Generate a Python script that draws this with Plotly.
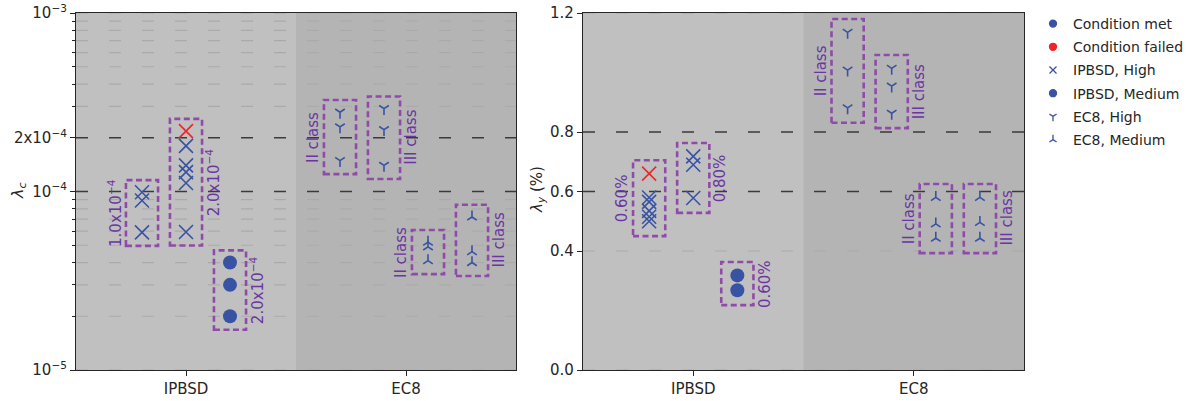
import math
import plotly.graph_objects as go

# ---------------------------------------------------------------- data
categories = ["IPBSD", "EC8"]

# Collapse safety, lambda_c (1/yr)
lam_c_ipbsd_high_a = [0.99e-4, 0.89e-4, 0.59e-4]
lam_c_ipbsd_high_a_failed = [False, False, False]
lam_c_ipbsd_high_b = [2.18e-4, 1.80e-4, 1.40e-4, 1.285e-4, 1.116e-4, 0.593e-4]
lam_c_ipbsd_high_b_failed = [True, False, False, False, False, False]
lam_c_ipbsd_medium = [4.0e-5, 3.0e-5, 2.0e-5]
lam_c_ipbsd_medium_failed = [False, False, False]
lam_c_ec8_high_ii = [2.78e-4, 2.30e-4, 1.49e-4]
lam_c_ec8_high_iii = [2.91e-4, 2.22e-4, 1.40e-4]
lam_c_ec8_medium_ii = [0.52e-4, 0.49e-4, 0.41e-4]
lam_c_ec8_medium_iii = [0.72e-4, 0.46e-4, 0.40e-4]

# Expected annual loss, lambda_y (%)
lam_y_ipbsd_high_a = [0.66, 0.58, 0.565, 0.535, 0.515, 0.50]
lam_y_ipbsd_high_a_failed = [True, False, False, False, False, False]
lam_y_ipbsd_high_b = [0.718, 0.69, 0.578]
lam_y_ipbsd_high_b_failed = [False, False, False]
lam_y_ipbsd_medium = [0.318, 0.268]
lam_y_ipbsd_medium_failed = [False, False]
lam_y_ec8_high_ii = [1.135, 1.008, 0.881]
lam_y_ec8_high_iii = [1.014, 0.954, 0.863]
lam_y_ec8_medium_ii = [0.580, 0.491, 0.443]
lam_y_ec8_medium_iii = [0.580, 0.496, 0.443]

# Limit lines
lam_c_limits = [1.0e-4, 2.0e-4]
lam_y_limits = [0.6, 0.8]

# Axis ticks
lam_c_ticks = [1e-5, 1e-4, 2e-4, 1e-3]
lam_c_ticktext = ["10<sup>−5</sup>", "10<sup>−4</sup>", "2x10<sup>−4</sup>", "10<sup>−3</sup>"]
lam_c_minor = [k * 1e-5 for k in range(2, 10)] + [k * 1e-4 for k in range(3, 10)]
lam_y_ticks = [0.0, 0.4, 0.6, 0.8, 1.2]
lam_y_ticktext = ["0.0", "0.4", "0.6", "0.8", "1.2"]

# Group labels
lam_c_ipbsd_labels = ["1.0x10<sup>−4</sup>", "2.0x10<sup>−4</sup>", "2.0x10<sup>−4</sup>"]
lam_y_ipbsd_labels = ["0.60%", "0.80%", "0.60%"]
ec8_class_labels = ["II class", "III class", "II class", "III class"]

legend_labels = ["Condition met", "Condition failed", "IPBSD, High",
                 "IPBSD, Medium", "EC8, High", "EC8, Medium"]

# ---------------------------------------------------------------- styles
W, H = 1203, 401
BLUE = "#3953a4"
RED = "#ee2529"
BOX = "#8e4ba8"
LABEL = "#6a36a0"
BG_A = "#c0c0c0"
BG_B = "#b4b4b4"
GRID = "#aaaaaa"
DARK = "#3a3a3a"
TXT = "#262626"
FONT = "DejaVu Sans"
DASH = "12px,21px"

SYM = {
    "x": dict(symbol="x-thin", size=14, lw=1.6),
    "o": dict(symbol="circle", size=14, lw=0),
    "yd": dict(symbol="y-down", size=8, lw=1.6),
    "yu": dict(symbol="y-up", size=8, lw=1.6),
}


def no_fail(vals):
    return [False] * len(vals)


# group table: (values, failed flags, x position, symbol, label, label side)
left_groups = [
    (lam_c_ipbsd_high_a, lam_c_ipbsd_high_a_failed, -0.2, "x", lam_c_ipbsd_labels[0], "l"),
    (lam_c_ipbsd_high_b, lam_c_ipbsd_high_b_failed, 0.0, "x", lam_c_ipbsd_labels[1], "r"),
    (lam_c_ipbsd_medium, lam_c_ipbsd_medium_failed, 0.2, "o", lam_c_ipbsd_labels[2], "r"),
    (lam_c_ec8_high_ii, no_fail(lam_c_ec8_high_ii), 0.7, "yd", ec8_class_labels[0], "l"),
    (lam_c_ec8_high_iii, no_fail(lam_c_ec8_high_iii), 0.9, "yd", ec8_class_labels[1], "r"),
    (lam_c_ec8_medium_ii, no_fail(lam_c_ec8_medium_ii), 1.1, "yu", ec8_class_labels[2], "l"),
    (lam_c_ec8_medium_iii, no_fail(lam_c_ec8_medium_iii), 1.3, "yu", ec8_class_labels[3], "r"),
]
right_groups = [
    (lam_y_ipbsd_high_a, lam_y_ipbsd_high_a_failed, -0.2, "x", lam_y_ipbsd_labels[0], "l"),
    (lam_y_ipbsd_high_b, lam_y_ipbsd_high_b_failed, 0.0, "x", lam_y_ipbsd_labels[1], "r"),
    (lam_y_ipbsd_medium, lam_y_ipbsd_medium_failed, 0.2, "o", lam_y_ipbsd_labels[2], "r"),
    (lam_y_ec8_high_ii, no_fail(lam_y_ec8_high_ii), 0.7, "yd", ec8_class_labels[0], "l"),
    (lam_y_ec8_high_iii, no_fail(lam_y_ec8_high_iii), 0.9, "yd", ec8_class_labels[1], "r"),
    (lam_y_ec8_medium_ii, no_fail(lam_y_ec8_medium_ii), 1.1, "yu", ec8_class_labels[2], "l"),
    (lam_y_ec8_medium_iii, no_fail(lam_y_ec8_medium_iii), 1.3, "yu", ec8_class_labels[3], "r"),
]

BOX_HALF = 0.073

fig = go.Figure()
shapes = []
annotations = []

# shaded category bands (EC8 half darker), grid and limit lines, all beneath the markers
for xref, yref, grid_vals, limits in (("x", "y", lam_c_ticks + lam_c_minor, lam_c_limits),
                                       ("x2", "y2", lam_y_ticks, lam_y_limits)):
    shapes.append(dict(type="rect", xref=xref, yref=f"{yref} domain",
                       x0=0.5, x1=1.5, y0=0, y1=1, fillcolor=BG_B,
                       line=dict(width=0), layer="below"))
    for v in grid_vals:
        if v in limits:
            continue
        shapes.append(dict(type="line", xref=f"{xref} domain", yref=yref,
                           x0=0, x1=1, y0=v, y1=v,
                           line=dict(color=GRID, width=1.2, dash=DASH), layer="below"))
    for v in limits:
        shapes.append(dict(type="line", xref=f"{xref} domain", yref=yref,
                           x0=0, x1=1, y0=v, y1=v,
                           line=dict(color=DARK, width=1.5, dash=DASH), layer="below"))


def add_panel(groups, xref, yref, log_axis):
    for vals, failed, xpos, sym, label, side in groups:
        colors = [RED if f else BLUE for f in failed]
        spec = SYM[sym]
        marker = dict(symbol=spec["symbol"], size=spec["size"], color=colors,
                      line=dict(width=spec["lw"], color=colors))
        fig.add_trace(go.Scatter(
            x=[xpos] * len(vals), y=vals, mode="markers", marker=marker,
            xaxis=xref, yaxis=yref, showlegend=False, hoverinfo="y"))
        # dashed frame around the group
        if log_axis:
            y0, y1 = min(vals) * 0.84, max(vals) * 1.17
            ymid = (math.log10(y0) + math.log10(y1)) / 2
        else:
            y0, y1 = min(vals) - 0.05, max(vals) + 0.045
            ymid = (y0 + y1) / 2
        shapes.append(dict(type="rect", xref=xref, yref=yref,
                           x0=xpos - BOX_HALF, x1=xpos + BOX_HALF, y0=y0, y1=y1,
                           line=dict(color=BOX, width=2.6, dash="6px,3.5px"),
                           layer="above"))
        edge = xpos - BOX_HALF if side == "l" else xpos + BOX_HALF
        annotations.append(dict(
            x=edge, y=ymid, xref=xref, yref=yref, text=label, showarrow=False,
            textangle=-90, xanchor="center", yanchor="middle",
            xshift=-11 if side == "l" else 11,
            font=dict(family=FONT, size=15, color=LABEL)))


add_panel(left_groups, "x", "y", True)
add_panel(right_groups, "x2", "y2", False)

# legend entries
legend_specs = [
    (legend_labels[0], "circle", BLUE, 7),
    (legend_labels[1], "circle", RED, 7),
    (legend_labels[2], "x-thin", BLUE, 7),
    (legend_labels[3], "circle", BLUE, 7),
    (legend_labels[4], "y-down", BLUE, 6),
    (legend_labels[5], "y-up", BLUE, 6),
]
for i, (name, sym, col, size) in enumerate(legend_specs):
    fig.add_trace(go.Scatter(
        x=[None], y=[None], mode="markers", name=name, legendgroup=f"g{i}",
        marker=dict(symbol=sym, size=size, color=col, line=dict(width=1.3, color=col))))

# axis titles
annotations.append(dict(x=18 / W, y=1 - 191 / H, xref="paper", yref="paper",
                        xanchor="center", yanchor="middle",
                        text="<i>λ</i><sub><i>c</i></sub>", showarrow=False, textangle=-90,
                        font=dict(family=FONT, size=16, color=TXT)))
annotations.append(dict(x=537 / W, y=1 - 190 / H, xref="paper", yref="paper",
                        xanchor="center", yanchor="middle",
                        text="<i>λ</i><sub><i>y</i></sub> (%)", showarrow=False, textangle=-90,
                        font=dict(family=FONT, size=15, color=TXT)))

xdom_l = [76 / W, 516 / W]
xdom_r = [583 / W, 1024 / W]
ydom = [31 / H, 388 / H]

axis_common = dict(showline=True, linecolor=TXT, linewidth=1.2, mirror=True,
                   ticks="outside", ticklen=5, tickwidth=1.2, tickcolor=TXT,
                   zeroline=False, automargin=False, showgrid=False,
                   tickfont=dict(family=FONT, size=15, color=TXT))

fig.update_layout(
    width=W, height=H,
    margin=dict(l=0, r=0, t=0, b=0),
    paper_bgcolor="white", plot_bgcolor=BG_A,
    font=dict(family=FONT, color=TXT),
    xaxis=dict(domain=xdom_l, range=[-0.5, 1.5], tickvals=[0, 1], ticktext=categories,
               anchor="y", **axis_common),
    yaxis=dict(domain=ydom, type="log", range=[-5, -3],
               tickvals=lam_c_ticks, ticktext=lam_c_ticktext,
               minor=dict(tickvals=lam_c_minor, ticks="outside", ticklen=3,
                          tickwidth=1, tickcolor=TXT, showgrid=False),
               anchor="x", **axis_common),
    xaxis2=dict(domain=xdom_r, range=[-0.5, 1.5], tickvals=[0, 1], ticktext=categories,
                anchor="y2", **axis_common),
    yaxis2=dict(domain=ydom, range=[0, 1.2], tickvals=lam_y_ticks, ticktext=lam_y_ticktext,
                anchor="x2", **axis_common),
    shapes=shapes,
    annotations=annotations,
    legend=dict(x=1033 / W, y=1 - 8 / H, xanchor="left", yanchor="top",
                bgcolor="rgba(0,0,0,0)", borderwidth=0, tracegroupgap=2,
                font=dict(family=FONT, size=14, color=TXT)),
    showlegend=True,
)

fig.write_html("out.html")
